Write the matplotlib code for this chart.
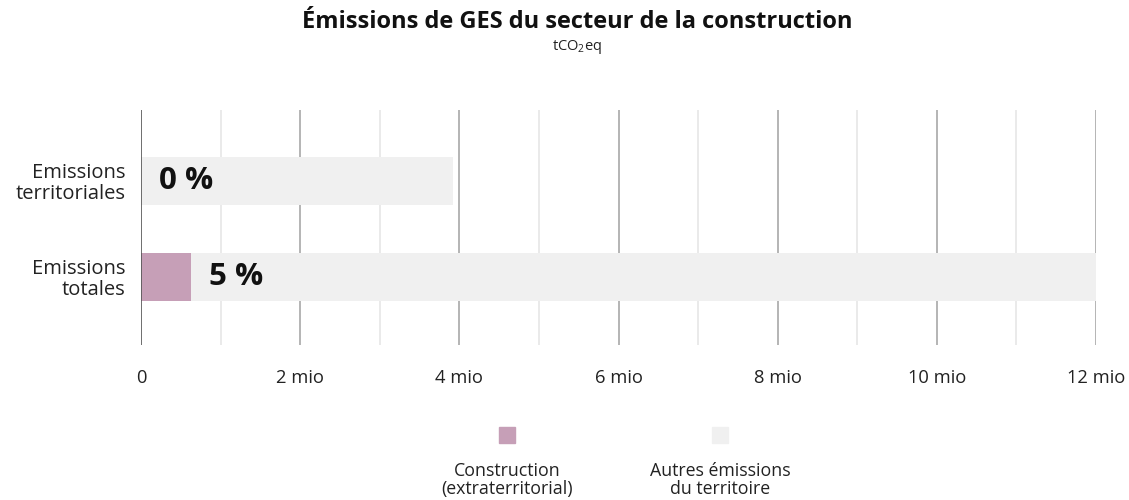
import matplotlib
matplotlib.use('Agg')
import matplotlib.pyplot as plt
from matplotlib.patches import Rectangle
import numpy as np

plt.rcParams['font.family'] = ['Open Sans', 'DejaVu Sans']
plt.rcParams['mathtext.fontset'] = 'custom'
plt.rcParams['mathtext.rm'] = 'Open Sans'
plt.rcParams['mathtext.it'] = 'Open Sans'

# data (mio tCO2eq)
categories = ['Emissions\ntotales', 'Emissions\nterritoriales']
construction = [0.63, 0.0]
autres = [11.42, 3.92]
pct_labels = ['5 %', '0 %']
series_names = ['Construction\n(extraterritorial)', 'Autres émissions\ndu territoire']
colors = ['#c69fb7', '#f0f0f0']
xticks = [0, 2, 4, 6, 8, 10, 12]
xticklabels = ['0', '2 mio', '4 mio', '6 mio', '8 mio', '10 mio', '12 mio']

fig = plt.figure(figsize=(11.29, 5), dpi=100)
ax = fig.add_axes([0.1249, 0.31, 0.8459, 0.47])

y = np.arange(len(categories))
ax.barh(y, construction, height=0.5, color=colors[0], zorder=3)
ax.barh(y, autres, left=construction, height=0.5, color=colors[1], zorder=3)

for i in range(len(categories)):
    ax.text(construction[i] + 0.23, y[i], pct_labels[i], ha='left', va='center',
            fontsize=22.5, fontweight='bold', color='#111111', zorder=4)

# grid
for v in np.arange(1, 13):
    ax.axvline(v, color='#a8a8a8' if v % 2 == 0 else '#e6e6e6', lw=1.2, zorder=1)
ax.axvline(0, color='#555555', lw=1.2, zorder=4)

ax.set_xlim(0, 12.0)
ax.set_ylim(-0.71, 1.74)
ax.set_xticks(xticks)
ax.set_xticklabels(xticklabels, fontsize=13.2, color='#222222')
ax.set_yticks(y)
ax.set_yticklabels(categories, fontsize=14.5, color='#222222', linespacing=1.05)
ax.tick_params(axis='x', length=0, pad=17)
ax.tick_params(axis='y', length=0, pad=11)
for s in ax.spines.values():
    s.set_visible(False)

fig.text(577 / 1129, 0.955, 'Émissions de GES du secteur de la construction', ha='center', va='center',
         fontsize=17, fontweight='bold', color='#111111')
fig.text(577 / 1129, 0.905, r'tCO$_2$eq', ha='center', va='center', fontsize=10.5, color='#222222')

# legend
leg_x = [507 / 1129, 720 / 1129]
for i in range(2):
    w = 16 / 1129
    h = 16 / 500
    fig.add_artist(Rectangle((leg_x[i] - w / 2, 1 - 443 / 500), w, h, color=colors[i],
                             transform=fig.transFigure))
    fig.text(leg_x[i], 1 - 480 / 500, series_names[i], ha='center', va='center',
             fontsize=12.8, color='#222222', linespacing=1.05)

fig.savefig('out.png', dpi=100)
